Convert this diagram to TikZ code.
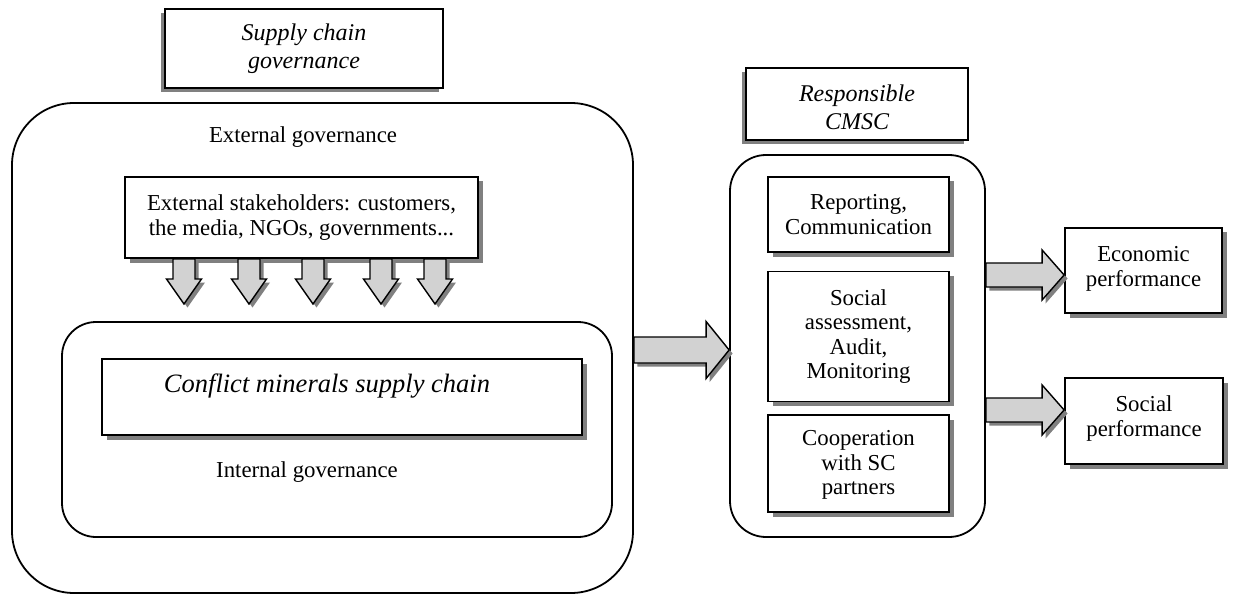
\documentclass[tikz,border=0pt]{standalone}
\usepackage{fontspec}
\setmainfont{Liberation Serif}
\usetikzlibrary{shadows,calc}
\tikzset{
  sbox/.style={draw, line width=1.8pt, fill=white, align=center, inner sep=0pt,
    drop shadow={shadow xshift=4.5pt, shadow yshift=-4.5pt, fill=gray, opacity=1}},
  sboxl/.style={draw, line width=1.8pt, fill=white, align=center, inner sep=0pt,
    drop shadow={shadow xshift=-4.5pt, shadow yshift=-4.5pt, fill=gray, opacity=1}},
  rbox/.style={draw, line width=1.8pt, inner sep=0pt},
  txt/.style={font=\fontsize{22.8}{24.5}\selectfont, align=center},
  ital/.style={font=\fontsize{24}{28}\selectfont\itshape, align=center},
  arrowline/.style={draw=black, line width=1.4pt, fill=gray!35, line join=miter},
  arrowshadow/.style={fill=gray},
}
\newcommand{\hshape}[6]{% opts, start, tip, shaft half, head half, head length
  \path[#1] ($(#2)+(0,-#4)$) -- ($(#3)+(-#6,-#4)$) -- ($(#3)+(-#6,-#5)$) -- (#3)
    -- ($(#3)+(-#6,#5)$) -- ($(#3)+(-#6,#4)$) -- ($(#2)+(0,#4)$) -- cycle;}
\newcommand{\vshape}[6]{%
  \path[#1] ($(#2)+(-#4,0)$) -- ($(#3)+(-#4,-#6)$) -- ($(#3)+(-#5,-#6)$) -- (#3)
    -- ($(#3)+(#5,-#6)$) -- ($(#3)+(#4,-#6)$) -- ($(#2)+(#4,0)$) -- cycle;}
\newcommand{\harr}[5]{%
  \begin{scope}[transform canvas={shift={(3.5pt,-3.5pt)}}]\hshape{arrowshadow}{#1}{#2}{#3}{#4}{#5}\end{scope}
  \hshape{arrowline}{#1}{#2}{#3}{#4}{#5}}
\newcommand{\varr}[5]{%
  \begin{scope}[transform canvas={shift={(3.5pt,-3.5pt)}}]\vshape{arrowshadow}{#1}{#2}{#3}{#4}{#5}\end{scope}
  \vshape{arrowline}{#1}{#2}{#3}{#4}{#5}}
\begin{document}
\begin{tikzpicture}[x=1pt,y=-1pt]
\useasboundingbox (0,0) rectangle (1237,596);
% left part
\node[sboxl, ital, minimum width=278pt, minimum height=79pt] (scg) at (304,48.5) {Supply chain\\governance};
\node[rbox, rounded corners=62pt, minimum width=621pt, minimum height=490pt] (outer) at (322.5,348) {};
\node[txt] (extgov) at (303,137) {External governance};
\node[sbox, txt, minimum width=353pt, minimum height=81pt] (stake) at (301.5,217.5)
  {External stakeholders: customers,\\the media, NGOs, governments...};
\node[rbox, rounded corners=34pt, minimum width=550pt, minimum height=215pt] (inner) at (337,429.5) {};
\node[sbox, minimum width=480pt, minimum height=76pt] (cmsc) at (342,397) {};
\node[font=\fontsize{26.5}{30}\selectfont\itshape] (cmsctxt) at (327,386) {Conflict minerals supply chain};
\node[txt] (intgov) at (307,472) {Internal governance};
% down arrows
\foreach \i/\xx in {1/184,2/249,3/313,4/381,5/435}{
  \coordinate (dx\i) at (\xx,304);
  \coordinate (ds\i) at (stake.south -| dx\i);
  \varr{ds\i}{dx\i}{11}{17.5}{25}
}
% middle part
\node[sboxl, ital, minimum width=222pt, minimum height=72pt] (resp) at (857,104) {};
\node[ital] (resptxt) at (857,107.5) {Responsible\\CMSC};
\node[rbox, rounded corners=36pt, minimum width=255pt, minimum height=382pt] (mid) at (857.5,346) {};
\node[sbox, txt, minimum width=181pt, minimum height=75pt] (rep) at (858.5,214.5) {Reporting,\\Communication};
\node[sbox, txt, minimum width=181pt, minimum height=130pt] (aud) at (858.5,336.5) {Social\\assessment,\\Audit,\\Monitoring};
\node[sbox, txt, minimum width=181pt, minimum height=97pt] (coop) at (858.5,463.5) {};
\node[txt] (cooptxt) at (858.5,465) {Cooperation\\with SC\\partners};
% right part
\node[sbox, minimum width=157pt, minimum height=85pt] (econ) at (1143.5,270.5) {};
\node[txt] (econtxt) at (1143.5,269) {Economic\\performance};
\node[sbox, minimum width=158pt, minimum height=86pt] (soc) at (1144,421) {};
\node[txt] (soctxt) at (1144,418.5) {Social\\performance};
% horizontal arrows
\coordinate (y1) at (0,350);
\coordinate (a1s) at (outer.east |- y1);
\coordinate (a1e) at (mid.west |- y1);
\harr{a1s}{a1e}{13}{28.5}{23}
\coordinate (y2) at (0,275);
\coordinate (a2s) at (mid.east |- y2);
\coordinate (a2e) at (econ.west |- y2);
\harr{a2s}{a2e}{12}{25}{22}
\coordinate (y3) at (0,410);
\coordinate (a3s) at (mid.east |- y3);
\coordinate (a3e) at (soc.west |- y3);
\harr{a3s}{a3e}{12}{25}{22}
\end{tikzpicture}
\end{document}
